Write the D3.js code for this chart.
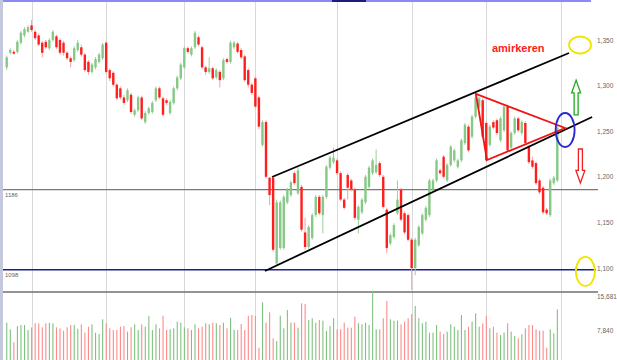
<!DOCTYPE html>
<html><head><meta charset="utf-8">
<script src="https://cdn.jsdelivr.net/npm/d3@7"></script>
<style>html,body{margin:0;padding:0;background:#fff;}svg{display:block;}</style>
</head><body>
<script>
// ---- data ----
const openP = [1320,1336,1337,1337,1347,1355,1359,1366,1359,1355, 1347,1348,1341,1350,1354,1350,1347,1336,1330,1328,
 1339,1342,1334,1326,1315,1320,1326,1330,1347,1317, 1314,1301,1297,1287,1284,1290,1268,1273,1287,1260,
 1270,1271,1284,1297,1286,1284,1270,1281,1297,1308, 1320,1341,1334,1342,1353,1342,1320,1315,1319,1309,
 1315,1308,1329,1326,1342,1346,1339,1332,1317,1301, 1308,1287,1235,1260,1199,1199,1105,1122,1122,1172,
 1180,1204,1182,1189,1139,1123,1133,1158,1178,1158, 1178,1210,1216,1218,1204,1175,1202,1196,1186,1153,
 1161,1172,1189,1204,1205,1215,1200,1164,1127,1134, 1160,1186,1160,1158,1131,1100,1125,1138,1153,1158,
 1186,1196,1207,1222,1196,1213,1218,1211,1218,1237, 1255,1244,1266,1277,1284,1259,1235,1260,1262,1240,
 1251,1277,1232,1248,1264,1248,1259,1233,1218,1215, 1196,1188,1164,1158,1193,1196];
const closeP = [1331,1339,1335,1348,1358,1362,1364,1361,1352,1345, 1336,1342,1350,1359,1342,1336,1336,1330,1326,1341,
 1347,1334,1317,1315,1323,1329,1334,1345,1315,1308, 1301,1286,1287,1281,1295,1271,1273,1287,1264,1270,
 1275,1281,1297,1287,1268,1281,1282,1297,1309,1323, 1341,1337,1341,1358,1345,1320,1315,1319,1308,1317,
 1306,1328,1326,1347,1347,1337,1331,1306,1301,1292, 1277,1255,1260,1200,1180,1120,1172,1172,1178,1186,
 1194,1193,1207,1142,1123,1145,1158,1178,1160,1178, 1211,1221,1221,1204,1175,1166,1188,1186,1155,1167,
 1175,1200,1210,1218,1213,1202,1167,1122,1136,1147, 1175,1153,1139,1131,1100,1131,1145,1158,1166,1196,
 1196,1218,1204,1200,1213,1233,1229,1218,1240,1257, 1229,1266,1287,1286,1244,1218,1255,1254,1248,1264,
 1277,1229,1248,1264,1251,1260,1237,1216,1211,1193, 1183,1161,1160,1196,1199,1254];
const highP = [1333,1341,1339,1350,1360,1364,1366,1372,1361,1357, 1349,1350,1352,1361,1356,1352,1349,1338,1332,1343,
 1350,1345,1336,1328,1325,1331,1336,1347,1349,1319, 1316,1303,1299,1290,1297,1292,1275,1289,1289,1272,
 1277,1283,1299,1299,1288,1286,1284,1299,1311,1325, 1343,1343,1343,1360,1355,1344,1322,1331,1321,1319,
 1317,1330,1331,1349,1349,1348,1341,1334,1319,1303, 1310,1289,1262,1262,1200,1201,1175,1174,1180,1188,
 1196,1206,1210,1191,1155,1147,1160,1180,1180,1180, 1213,1223,1232,1220,1206,1177,1204,1198,1188,1169,
 1177,1202,1212,1220,1230,1217,1202,1166,1138,1149, 1196,1188,1162,1160,1133,1133,1147,1160,1168,1198,
 1198,1220,1209,1224,1215,1235,1231,1220,1242,1259, 1257,1268,1291,1288,1286,1261,1257,1262,1264,1266,
 1279,1279,1250,1266,1266,1262,1261,1235,1222,1217, 1198,1190,1166,1198,1201,1256];
const lowP = [1317,1334,1334,1335,1345,1353,1358,1359,1350,1343, 1331,1340,1339,1348,1340,1334,1333,1328,1320,1326,
 1337,1332,1315,1312,1313,1318,1324,1328,1313,1305, 1299,1284,1285,1279,1282,1269,1266,1271,1262,1258,
 1268,1269,1282,1285,1266,1279,1268,1279,1295,1306, 1318,1335,1332,1340,1343,1318,1312,1313,1306,1307,
 1298,1306,1324,1324,1340,1335,1329,1304,1298,1290, 1275,1252,1233,1198,1169,1118,1103,1120,1120,1170,
 1178,1191,1180,1140,1120,1121,1131,1156,1158,1138, 1176,1208,1214,1202,1173,1164,1175,1184,1153,1138,
 1159,1170,1187,1202,1203,1200,1165,1116,1125,1132, 1158,1151,1137,1129,1076,1092,1123,1136,1151,1156,
 1184,1194,1202,1198,1194,1211,1216,1209,1216,1235, 1227,1242,1264,1275,1242,1216,1233,1252,1246,1238,
 1249,1227,1230,1246,1249,1246,1235,1214,1209,1191, 1181,1159,1158,1156,1191,1194];
const volume = [8600,7080,4080,7840,8070,8070,6920,7540,8460,8460, 7540,8460,8600,8460,7540,7310,6760,7540,8070,8070,
 7220,8230,6300,7680,8230,6300,6000,9390,8460,7310, 6920,6920,7680,7840,6530,7540,8230,6920,8230,7680,
 10150,6920,8230,7310,10220,6920,7080,7310,8830,8600, 7540,7310,6920,8230,7310,7680,8460,8230,8600,8460,
 8070,8600,7310,9750,6920,6920,8300,6920,10220,10380, 10150,2840,13310,8600,11000,5000,4380,10220,7310,11530,
 8600,8600,7450,13070,12910,9220,9620,8600,9220,9060, 6690,7840,9620,7080,7080,8600,7450,7450,9990,8460,
 8230,8600,8070,15990,7080,7080,9620,13610,9390,9060, 9060,8230,8830,9620,10540,12450,9620,8460,8830,6300,
 6300,8070,6530,6000,6530,8230,7680,6920,10380,6920, 7680,8830,10770,7680,8460,10150,7310,7680,6300,5770,
 6300,8460,6530,5530,5000,5930,7310,8070,8070,7080, 6760,6760,2840,7080,6160,11690];
const priceTicks = [1100,1150,1200,1250,1300,1350];
const volumeTicks = [7840,15681];
const monthStarts = [7,28,50,70,93,114,135,156];
const supportLevels = [1186,1098];
// annotations in (bar index, price)
const channelUpper = [[74.7,1199.8],[158.3,1335.7]];
const channelLower = [[72.7,1096.7],[164.8,1265.6]];
const triangle = [[132.1,1290.8],[135.2,1218.4],[157.2,1253.5]];
const blueCircle = [157.2,1251.3];
const yellowTop = [161.4,1344.5];
const yellowBottom = [162.9,1096.2];
const upArrow = {i:160.3, from:1268, to:1306};
const downArrow = {i:161.5, from:1230.5, to:1193.2};
const signature = {i:136.6, p:1336.8, text:"amirkeren"};

// ---- chart ----
const W=617,H=360;
const N = openP.length;
const svg = d3.select("body").append("svg").attr("width",W).attr("height",H);
const x = d3.scaleLinear().domain([0,155]).range([6.7,557.3]);
const y = d3.scaleLinear().domain([1100,1350]).range([268,40]);
const yv = d3.scaleLinear().domain([0,15681]).range([360,292]);

// frame decorations
svg.append("rect").attr("x",0).attr("y",0).attr("width",3).attr("height",H).attr("fill","#c3c8dc");
svg.append("rect").attr("x",3).attr("y",0).attr("width",588).attr("height",2).attr("fill","#8a8af5");
svg.append("rect").attr("x",332).attr("y",0).attr("width",34).attr("height",2).attr("fill","#1c1c7a");

// month gridlines
svg.append("g").selectAll("line").data(monthStarts).join("line")
  .attr("x1",d=>Math.round(x(d))+0.5).attr("x2",d=>Math.round(x(d))+0.5)
  .attr("y1",2).attr("y2",H).attr("stroke","#d9d9d9").attr("stroke-width",1);

// support lines
svg.append("line").attr("x1",3).attr("x2",598).attr("y1",y(supportLevels[0])).attr("y2",y(supportLevels[0]))
  .attr("stroke","#7a7a7a").attr("stroke-width",1.3);
svg.append("line").attr("x1",3).attr("x2",596).attr("y1",y(supportLevels[1])).attr("y2",y(supportLevels[1]))
  .attr("stroke","#1f1f8f").attr("stroke-width",1.6);
svg.selectAll("text.lvl").data(supportLevels).join("text").attr("class","lvl")
  .attr("x",5).attr("y",d=>y(d)+7).text(d=>d)
  .attr("font-family","Liberation Sans, Arial, sans-serif").attr("font-size",6).attr("fill","#666");

// separator
svg.append("line").attr("x1",3).attr("x2",598).attr("y1",292).attr("y2",292).attr("stroke","#6f6f6f").attr("stroke-width",1.5);

const data = d3.range(N).map(i=>({i,o:openP[i],c:closeP[i],h:highP[i],l:lowP[i],v:volume[i]}));
const GREEN="#86c886", RED="#ff1e1e", VGREEN="#7fc27f", VRED="#ff8a8a";

// volume bars
svg.append("g").selectAll("rect").data(data).join("rect")
  .attr("x",d=>x(d.i)-0.5).attr("width",1.1)
  .attr("y",d=>Math.max(yv(d.v),289)).attr("height",d=>360-Math.max(yv(d.v),289))
  .attr("fill",d=>d.c>=d.o?VGREEN:VRED);

// candles
const cg = svg.append("g");
cg.selectAll("line").data(data).join("line")
  .attr("x1",d=>x(d.i)).attr("x2",d=>x(d.i)).attr("y1",d=>y(d.h)).attr("y2",d=>y(d.l))
  .attr("stroke",d=>d.c>=d.o?"#9ad19a":"#f7a0a0").attr("stroke-width",1);
cg.selectAll("rect").data(data).join("rect")
  .attr("x",d=>x(d.i)-1.2).attr("width",2.4)
  .attr("y",d=>y(Math.max(d.o,d.c))).attr("height",d=>Math.max(1,Math.abs(y(d.o)-y(d.c))))
  .attr("fill",d=>d.c>=d.o?GREEN:RED);

// right axis
const ax = svg.append("g").attr("transform","translate(597,0)")
  .call(d3.axisRight(y).tickValues(priceTicks).tickSize(0).tickPadding(0).tickFormat(d3.format(",")));
const vx = svg.append("g").attr("transform","translate(597,0)")
  .call(d3.axisRight(yv).tickValues(volumeTicks).tickSize(0).tickPadding(0).tickFormat(d3.format(",")));
[ax,vx].forEach(g=>{g.select(".domain").remove();
  g.selectAll("text").attr("font-family","Liberation Sans, Arial, sans-serif").attr("font-size",6.5).attr("fill","#666");});
vx.selectAll("text").attr("dy","0.95em");

// channel lines
const line = d3.line().x(d=>x(d[0])).y(d=>y(d[1]));
svg.append("path").attr("d",line(channelUpper)).attr("stroke","#000").attr("stroke-width",1.8).attr("fill","none");
svg.append("path").attr("d",line(channelLower)).attr("stroke","#000").attr("stroke-width",1.8).attr("fill","none");
// triangle
svg.append("path").attr("d",line(triangle)+"Z").attr("stroke","#f01515").attr("stroke-width",1.8).attr("fill","none");
// circles
svg.append("ellipse").attr("cx",x(blueCircle[0])).attr("cy",y(blueCircle[1])).attr("rx",9.5).attr("ry",17)
  .attr("fill","none").attr("stroke","#2a2ad0").attr("stroke-width",1.8);
svg.append("ellipse").attr("cx",x(yellowTop[0])).attr("cy",y(yellowTop[1])).attr("rx",11).attr("ry",8.5)
  .attr("fill","none").attr("stroke","#f2e400").attr("stroke-width",1.8);
svg.append("ellipse").attr("cx",x(yellowBottom[0])).attr("cy",y(yellowBottom[1])).attr("rx",9.5).attr("ry",14.5)
  .attr("fill","none").attr("stroke","#f2e400").attr("stroke-width",1.8);

// arrows
function arrow(a,color){
  const cx=x(a.i), y0=y(a.from), y1=y(a.to);
  const dir = y1<y0?-1:1; const len=Math.abs(y1-y0);
  const hh=len*0.37, hw=4.5, sw=2;
  const yb = y1 - dir*hh;
  const p=[[cx-sw,y0],[cx-sw,yb],[cx-hw,yb],[cx,y1],[cx+hw,yb],[cx+sw,yb],[cx+sw,y0]];
  svg.append("path").attr("d",d3.line()(p)+"Z").attr("fill","none").attr("stroke",color).attr("stroke-width",1.3);
}
arrow(upArrow,"#22aa22");
arrow(downArrow,"#ee2222");

svg.append("text").attr("x",x(signature.i)).attr("y",y(signature.p)).text(signature.text)
  .attr("font-family","Liberation Sans, Arial, sans-serif").attr("font-weight","bold").attr("font-size",11)
  .attr("fill","#ff2020");
</script>
</body></html>
